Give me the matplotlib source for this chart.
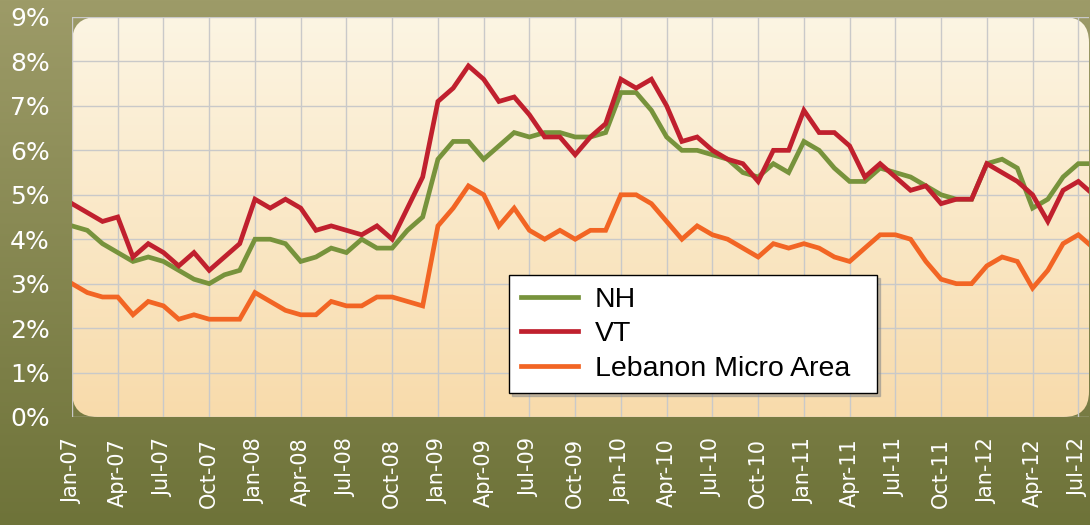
import numpy as np
import matplotlib
matplotlib.use("Agg")
import matplotlib.pyplot as plt
from matplotlib.patches import FancyBboxPatch
from matplotlib.colors import LinearSegmentedColormap

# Monthly unemployment rate (%), Jan-07 .. Aug-12
months = []
for yr in range(7, 13):
    for mon in ["Jan", "Feb", "Mar", "Apr", "May", "Jun",
                "Jul", "Aug", "Sep", "Oct", "Nov", "Dec"]:
        months.append(f"{mon}-{yr:02d}")
months = months[:68]

nh = [4.3, 4.2, 3.9, 3.7, 3.5, 3.6, 3.5, 3.3, 3.1, 3.0, 3.2, 3.3,
      4.0, 4.0, 3.9, 3.5, 3.6, 3.8, 3.7, 4.0, 3.8, 3.8, 4.2, 4.5,
      5.8, 6.2, 6.2, 5.8, 6.1, 6.4, 6.3, 6.4, 6.4, 6.3, 6.3, 6.4,
      7.3, 7.3, 6.9, 6.3, 6.0, 6.0, 5.9, 5.8, 5.5, 5.4, 5.7, 5.5,
      6.2, 6.0, 5.6, 5.3, 5.3, 5.6, 5.5, 5.4, 5.2, 5.0, 4.9, 4.9,
      5.7, 5.8, 5.6, 4.7, 4.9, 5.4, 5.7, 5.7]

vt = [4.8, 4.6, 4.4, 4.5, 3.6, 3.9, 3.7, 3.4, 3.7, 3.3, 3.6, 3.9,
      4.9, 4.7, 4.9, 4.7, 4.2, 4.3, 4.2, 4.1, 4.3, 4.0, 4.7, 5.4,
      7.1, 7.4, 7.9, 7.6, 7.1, 7.2, 6.8, 6.3, 6.3, 5.9, 6.3, 6.6,
      7.6, 7.4, 7.6, 7.0, 6.2, 6.3, 6.0, 5.8, 5.7, 5.3, 6.0, 6.0,
      6.9, 6.4, 6.4, 6.1, 5.4, 5.7, 5.4, 5.1, 5.2, 4.8, 4.9, 4.9,
      5.7, 5.5, 5.3, 5.0, 4.4, 5.1, 5.3, 5.0]

lebanon = [3.0, 2.8, 2.7, 2.7, 2.3, 2.6, 2.5, 2.2, 2.3, 2.2, 2.2, 2.2,
           2.8, 2.6, 2.4, 2.3, 2.3, 2.6, 2.5, 2.5, 2.7, 2.7, 2.6, 2.5,
           4.3, 4.7, 5.2, 5.0, 4.3, 4.7, 4.2, 4.0, 4.2, 4.0, 4.2, 4.2,
           5.0, 5.0, 4.8, 4.4, 4.0, 4.3, 4.1, 4.0, 3.8, 3.6, 3.9, 3.8,
           3.9, 3.8, 3.6, 3.5, 3.8, 4.1, 4.1, 4.0, 3.5, 3.1, 3.0, 3.0,
           3.4, 3.6, 3.5, 2.9, 3.3, 3.9, 4.1, 3.8]

series = [("NH", nh, "#77933c"),
          ("VT", vt, "#c0202e"),
          ("Lebanon Micro Area", lebanon, "#f26524")]

W, H = 1090, 525
fig = plt.figure(figsize=(W / 100, H / 100), dpi=100)

# olive gradient behind everything
bg = fig.add_axes([0, 0, 1, 1], zorder=0)
bg_cmap = LinearSegmentedColormap.from_list("bg", ["#9d9b68", "#6e7339"])
bg.imshow(np.linspace(0, 1, 256).reshape(-1, 1), cmap=bg_cmap,
          aspect="auto", extent=[0, 1, 0, 1])
bg.set_axis_off()

# plot area in pixels: x 72..1089, y 17..417 (from top)
left, right, top, bottom = 72, 1089, 17, 417
ax = fig.add_axes([left / W, 1 - bottom / H, (right - left) / W,
                   (bottom - top) / H], zorder=1)
ax.patch.set_visible(False)

# rounded cream panel
aspect = (right - left) / (bottom - top)
panel = FancyBboxPatch((0, 0), 1, 1, boxstyle="round,pad=0,rounding_size=0.025",
                       mutation_aspect=aspect, transform=ax.transAxes,
                       facecolor="none", edgecolor="none")
ax.add_patch(panel)
area_cmap = LinearSegmentedColormap.from_list("area", ["#fcf5e3", "#f8dbab"])
img = ax.imshow(np.linspace(0, 1, 256).reshape(-1, 1), cmap=area_cmap,
                aspect="auto", extent=[0, 1, 0, 1], transform=ax.transAxes,
                zorder=0)
img.set_clip_path(panel)

x = np.arange(len(months))
for label, vals, color in series:
    ax.plot(x, vals, color=color, lw=3.4, label=label, zorder=3,
            solid_joinstyle="miter")

ax.set_xlim(0, 66.7)
ax.set_ylim(0, 9)
ax.set_yticks(range(0, 10))
ax.set_yticklabels([f"{v}%" for v in range(0, 10)])
ax.set_xticks(x[::3])
ax.set_xticklabels(months[::3], rotation=90)
ax.grid(True, color="#c9c9c9", lw=1.0, zorder=1)
ax.tick_params(length=0, colors="white")
ax.tick_params(axis="y", labelsize=18, pad=16)
ax.tick_params(axis="x", labelsize=15, pad=15)
for lab in ax.get_yticklabels() + ax.get_xticklabels():
    lab.set_color("white")
for sp in ax.spines.values():
    sp.set_visible(False)

leg = ax.legend(loc="lower left", bbox_to_anchor=(0.43, 0.06, 0.362, 0.2875),
                mode="expand", borderaxespad=0, fancybox=False, framealpha=1,
                edgecolor="black", prop={"family": "Liberation Sans", "size": 20.5},
                handlelength=2.0, handletextpad=0.6, labelspacing=0.3,
                borderpad=0.4, shadow={"color": "0.55", "alpha": 0.5})
leg.get_frame().set_linewidth(1.0)
leg.set_zorder(5)

fig.savefig("out.png", dpi=100)
